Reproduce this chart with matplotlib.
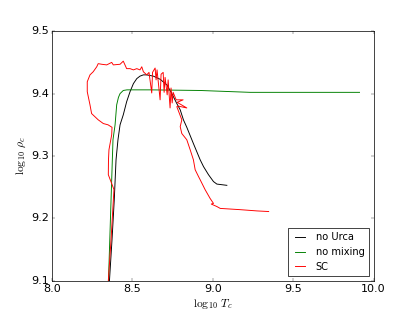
import matplotlib
matplotlib.use('Agg')
import matplotlib.pyplot as plt

# log10 Tc / log10 rho_c tracks
noUrca_T = [8.358, 8.374, 8.388, 8.399, 8.411, 8.424, 8.444, 8.465, 8.486, 8.507,
            8.528, 8.548, 8.569, 8.590, 8.631, 8.673, 8.715, 8.746, 8.777, 8.798,
            8.818, 8.839, 8.880, 8.922, 8.943, 8.974, 9.005, 9.026, 9.057, 9.088]
noUrca_rho = [9.100, 9.166, 9.230, 9.294, 9.326, 9.350, 9.366, 9.387, 9.403, 9.416,
              9.424, 9.428, 9.430, 9.430, 9.428, 9.423, 9.414, 9.400, 9.384, 9.374,
              9.358, 9.346, 9.320, 9.294, 9.283, 9.270, 9.259, 9.255, 9.254, 9.253]

nomix_T = [8.352, 8.368, 8.380, 8.393, 8.403, 8.414, 8.424, 8.444, 8.467, 8.611,
           8.922, 9.234, 9.545, 9.913]
nomix_rho = [9.100, 9.230, 9.326, 9.350, 9.382, 9.394, 9.400, 9.405, 9.406, 9.406,
             9.405, 9.402, 9.402, 9.402]

sc_T = [8.351, 8.368, 8.386, 8.382, 8.351, 8.352, 8.355, 8.372, 8.374, 8.349,
        8.320, 8.288, 8.247, 8.237, 8.220, 8.220, 8.237, 8.257, 8.279, 8.288,
        8.310, 8.341, 8.372, 8.382, 8.424, 8.444, 8.465, 8.486, 8.507, 8.528,
        8.548, 8.559, 8.569, 8.590, 8.604, 8.621, 8.626, 8.642, 8.648, 8.654,
        8.673, 8.679, 8.692, 8.698, 8.704, 8.717, 8.723, 8.735, 8.741, 8.748,
        8.754, 8.773, 8.816, 8.779, 8.839, 8.785, 8.777, 8.808, 8.798, 8.808,
        8.839, 8.860, 8.880, 8.891, 8.912, 8.922, 8.953, 8.984, 9.005, 8.991,
        9.026, 9.047, 9.171, 9.275, 9.348]
sc_rho = [9.100, 9.166, 9.246, 9.249, 9.270, 9.294, 9.310, 9.334, 9.346, 9.350,
          9.352, 9.358, 9.368, 9.382, 9.403, 9.419, 9.430, 9.435, 9.443, 9.448,
          9.447, 9.446, 9.450, 9.446, 9.447, 9.452, 9.440, 9.440, 9.438, 9.440,
          9.438, 9.443, 9.435, 9.430, 9.434, 9.401, 9.434, 9.441, 9.422, 9.438,
          9.390, 9.431, 9.434, 9.402, 9.426, 9.398, 9.422, 9.377, 9.409, 9.385,
          9.402, 9.390, 9.390, 9.386, 9.377, 9.380, 9.379, 9.358, 9.347, 9.336,
          9.326, 9.310, 9.294, 9.278, 9.267, 9.262, 9.246, 9.232, 9.224, 9.223,
          9.219, 9.216, 9.214, 9.212, 9.211]

plt.style.use('classic')
plt.rcParams['figure.facecolor'] = 'white'
plt.rcParams['savefig.facecolor'] = 'white'
plt.rcParams['xtick.labelsize'] = 15.5
plt.rcParams['ytick.labelsize'] = 15.5
plt.rcParams['axes.labelsize'] = 16

fig = plt.figure(figsize=(8, 6.0145), dpi=51.875)
ax = fig.add_subplot(111)
ax.plot(noUrca_T, noUrca_rho, 'k', lw=1.3, label='no Urca')
ax.plot(nomix_T, nomix_rho, 'g', lw=1.3, label='no mixing')
ax.plot(sc_T, sc_rho, 'r', lw=1.3, label='SC')
ax.set_xlim(8.0, 10.0)
ax.set_ylim(9.1, 9.5)
ax.set_xticks([8.0, 8.5, 9.0, 9.5, 10.0])
ax.set_yticks([9.1, 9.2, 9.3, 9.4, 9.5])
ax.set_xlabel(r'$\log_{10}\,T_c$')
ax.set_ylabel(r'$\log_{10}\,\rho_c$')
ax.legend(loc='lower right', fontsize=13.7, handlelength=1.6)
fig.savefig('out.png', dpi=51.875)
